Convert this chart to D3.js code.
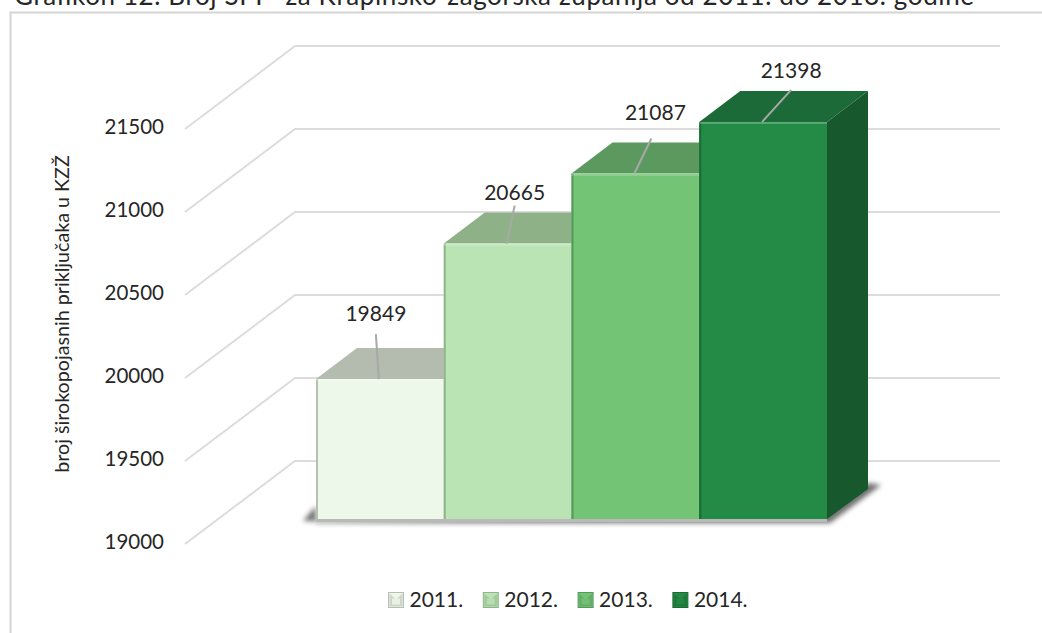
<!DOCTYPE html>
<html>
<head>
<meta charset="utf-8">
<script src="https://cdnjs.cloudflare.com/ajax/libs/d3/7.8.5/d3.min.js"></script>
<style>
  html, body { margin: 0; padding: 0; background: #fff; overflow: hidden; }
  text { font-family: Lato, "Open Sans", sans-serif; fill: #262626; }
</style>
</head>
<body>
<div id="chart"></div>
<script>
const years = ['2011.', '2012.', '2013.', '2014.'];
const values = [19849, 20665, 21087, 21398];
const yTicks = [19000, 19500, 20000, 20500, 21000, 21500];
const frontColors = ['#edf7ea', '#bae4b3', '#74c476', '#238b45'];
const topColors = ['#b4bcb0', '#8fb188', '#5b995f', '#1b6a37'];
const sideColors = ['#a9b3a5', '#80a67a', '#4c8a52', '#17592c'];
const edgeColors = ['#b7bfb3', '#8fb58a', '#559a5b', '#1a6b36'];
const titleText = 'Grafikon 12. Broj ŠPP  za Krapinsko-zagorska županija od 2011. do 2013. godine';
const yTitle = 'broj širokopojasnih priključaka u KZŽ';

const width = 1042, height = 633;

// depth of a bar, and how far the back wall sits behind the bars
const depth = {x: 41, y: -31};
const wall = {x: -21, y: -59, right: 1000};
const floorFront = {x: 185, y: 24};

// label offsets from the middle of each bar's top edge
const leaderEnd = [[-4, -45], [7, -38], [16, -35], [28, -32]];
const labelPos = [[-4, -65], [7, -51], [20, -61], [28, -51]];

const svg = d3.select('#chart').append('svg')
    .attr('width', width)
    .attr('height', height);

const defs = svg.append('defs');
defs.append('filter').attr('id', 'blur')
    .attr('x', '-20%').attr('y', '-20%').attr('width', '140%').attr('height', '140%')
  .append('feGaussianBlur').attr('stdDeviation', 2.5);

const xScale = d3.scaleBand().domain(years).range([316, 827]);
const yScale = d3.scaleLinear().domain([19000, 21500]).range([520, 105]);

// frame, cut off at the right and bottom of the picture
svg.append('path')
    .attr('d', `M10.5,${height}V12.5H${width}`)
    .attr('fill', 'none')
    .attr('stroke', '#d4d4d4')
    .attr('stroke-width', 2);

svg.append('text')
    .attr('x', 14)
    .attr('y', 5)
    .attr('textLength', 960)
    .attr('lengthAdjust', 'spacing')
    .style('font-size', '26px')
    .style('white-space', 'pre')
    .text(titleText);

// gridlines: side wall then back wall
const backX = xScale.range()[0] + wall.x;
svg.append('g').selectAll('path')
    .data(yTicks)
  .join('path')
    .attr('d', d => `M${floorFront.x},${yScale(d) + floorFront.y}L${backX},${yScale(d) + wall.y}H${wall.right}`)
    .attr('fill', 'none')
    .attr('stroke', '#dcdcdc')
    .attr('stroke-width', 2);

const yAxis = d3.axisLeft(yScale)
    .tickValues(yTicks)
    .tickFormat(d3.format('d'))
    .tickSize(0)
    .tickPadding(0);

const yAxisG = svg.append('g')
    .attr('transform', 'translate(164,22)')
    .call(yAxis);
yAxisG.select('.domain').remove();
yAxisG.selectAll('text')
    .style('font-size', '20.5px')
    .style('font-family', 'Lato, sans-serif')
    .attr('fill', '#262626');

svg.append('text')
    .attr('transform', 'translate(69,314) rotate(-90)')
    .attr('text-anchor', 'middle')
    .style('font-size', '19.7px')
    .text(yTitle);

// shadow under the bars
const x0 = xScale.range()[0], x1 = xScale.range()[1], base = yScale(19000);
svg.append('path')
    .attr('d', `M${x0 - 13},${base + 1}L${x0},${base - 14}V${base + 3}H${x1 + 3}L${x1 + depth.x + 13},${base + depth.y - 4}L${x1 + depth.x},${base + depth.y - 6}L${x1},${base - 6}Z`)
    .attr('fill', '#5f5f5f')
    .attr('filter', 'url(#blur)')
    .attr('opacity', 0.9);
svg.append('rect')
    .attr('x', x0)
    .attr('y', base - 1)
    .attr('width', x1 - x0)
    .attr('height', 3)
    .attr('fill', '#b9b9b9');

// bars, left to right so each one covers the depth of the one before
const bars = svg.append('g').selectAll('g')
    .data(values)
  .join('g');

bars.append('path')
    .attr('d', (d, i) => {
      const x = xScale(years[i]), w = xScale.bandwidth(), y = yScale(d);
      return `M${x},${y}l${depth.x},${depth.y}h${w}l${-depth.x},${-depth.y}Z`;
    })
    .attr('fill', (d, i) => topColors[i]);

bars.append('path')
    .attr('d', (d, i) => {
      const x = xScale(years[i]) + xScale.bandwidth(), y = yScale(d);
      return `M${x},${y}l${depth.x},${depth.y}V${base + depth.y}L${x},${base - 1}Z`;
    })
    .attr('fill', (d, i) => sideColors[i]);

bars.append('rect')
    .attr('x', (d, i) => xScale(years[i]))
    .attr('y', d => yScale(d))
    .attr('width', xScale.bandwidth())
    .attr('height', d => base - 1 - yScale(d))
    .attr('fill', (d, i) => frontColors[i]);

// bevel: darker left edge, lighter top edge
bars.append('rect')
    .attr('x', (d, i) => xScale(years[i]))
    .attr('y', d => yScale(d))
    .attr('width', 2)
    .attr('height', d => base - 1 - yScale(d))
    .attr('fill', (d, i) => edgeColors[i]);
bars.append('rect')
    .attr('x', (d, i) => xScale(years[i]))
    .attr('y', d => yScale(d))
    .attr('width', xScale.bandwidth())
    .attr('height', 2)
    .attr('fill', '#fff')
    .attr('opacity', 0.25);

// leader lines and value labels
const centre = i => xScale(years[i]) + xScale.bandwidth() / 2;
svg.append('g').selectAll('line')
    .data(values)
  .join('line')
    .attr('x1', (d, i) => centre(i) - 1)
    .attr('y1', d => yScale(d))
    .attr('x2', (d, i) => centre(i) + leaderEnd[i][0])
    .attr('y2', (d, i) => yScale(d) + leaderEnd[i][1])
    .attr('stroke', '#a8a8a8')
    .attr('stroke-width', 2);

svg.append('g').selectAll('text')
    .data(values)
  .join('text')
    .attr('x', (d, i) => centre(i) + labelPos[i][0])
    .attr('y', (d, i) => yScale(d) + labelPos[i][1])
    .attr('dy', '.35em')
    .attr('text-anchor', 'middle')
    .style('font-size', '21px')
    .text(d => d);

// legend
const legend = svg.append('g').selectAll('g')
    .data(years)
  .join('g')
    .attr('transform', (d, i) => `translate(${388.5 + i * 94.8},592.5)`);

legend.append('rect')
    .attr('width', 15)
    .attr('height', 15)
    .attr('fill', (d, i) => frontColors[i])
    .attr('stroke', (d, i) => edgeColors[i]);
// darker bevel on the sides and bottom, light wedge on top
legend.append('path')
    .attr('d', 'M1,1L7.5,7L14,1V14H1Z')
    .attr('fill', (d, i) => topColors[i])
    .attr('opacity', 0.55);
legend.append('rect')
    .attr('x', 3.5)
    .attr('y', 6)
    .attr('width', 8)
    .attr('height', 6)
    .attr('fill', (d, i) => frontColors[i])
    .attr('opacity', 0.8);

legend.append('text')
    .attr('x', 21)
    .attr('y', 14)
    .style('font-size', '21px')
    .text(d => d);
</script>
</body>
</html>
